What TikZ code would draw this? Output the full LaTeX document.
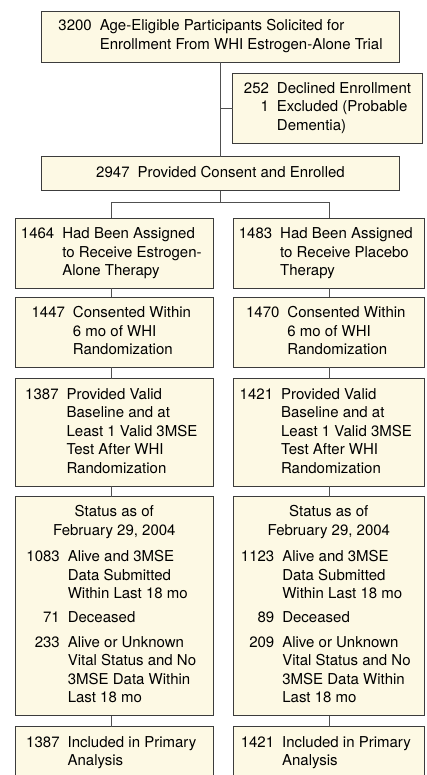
\documentclass[tikz,border=0pt]{standalone}
\usepackage{fontspec}
\setmainfont{TeX Gyre Heros}
\definecolor{boxfill}{HTML}{FDF9E4}
\definecolor{boxdraw}{HTML}{3C3C3C}
\definecolor{linegray}{HTML}{505050}
\newcommand{\ntab}[1]{\begin{tabular}{@{}r@{\hspace{8pt}}l@{}}#1\end{tabular}}
\newcommand{\ctab}[1]{\begin{tabular}{@{}r@{\hspace{8pt}}l@{\hspace{6pt}}}#1\end{tabular}}
\begin{document}
\begin{tikzpicture}[x=1pt,y=-1pt,
  font=\fontsize{15}{18.5}\selectfont,
  fbox/.style={draw=boxdraw, fill=boxfill, line width=0.9pt, inner sep=0pt, outer sep=0pt, anchor=center},
  lbox/.style={fbox, minimum width=198.7pt},
  rbox/.style={fbox, minimum width=191pt},
  conn/.style={draw=linegray, line width=1pt}]
\useasboundingbox (0,0) rectangle (427,775);
\begin{scope}
\clip (0,0) rectangle (427,775);
% top
\node[fbox, minimum width=357.3pt, minimum height=51pt] (top) at (220.5,36.5)
  {\ntab{3200 & Age-Eligible Participants Solicited for\\ & Enrollment From WHI Estrogen-Alone Trial}};
\node[fbox, minimum width=190pt, minimum height=70.5pt] (decl) at (327.5,108.3)
  {\ntab{252 & Declined Enrollment\\ 1 & Excluded (Probable\\ & Dementia)}};
\node[fbox, minimum width=357.3pt, minimum height=33.7pt] (enr) at (220.5,173.8)
  {\ntab{2947 & Provided Consent and Enrolled}};
% columns
\coordinate (lc) at (111,0);
\coordinate (rc) at (329.3,0);
\node[lbox, minimum height=70pt] (l1) at (114.3,253.3)
  {\ctab{1464 & Had Been Assigned\\ & to Receive Estrogen-\\ & Alone Therapy}};
\node[rbox, minimum height=70pt] (r1) at (328.8,253.3)
  {\ctab{1483 & Had Been Assigned\\ & to Receive Placebo\\ & Therapy}};
\node[lbox, minimum height=70pt] (l2) at (114.3,332.3)
  {\ctab{1447 & Consented Within\\ & 6 mo of WHI\\ & Randomization}};
\node[rbox, minimum height=70pt] (r2) at (328.8,332.3)
  {\ctab{1470 & Consented Within\\ & 6 mo of WHI\\ & Randomization}};
\node[lbox, minimum height=107.3pt] (l3) at (114.3,432.3)
  {\ctab{1387 & Provided Valid\\ & Baseline and at\\ & Least 1 Valid 3MSE\\ & Test After WHI\\ & Randomization}};
\node[rbox, minimum height=107.3pt] (r3) at (328.8,432.3)
  {\ctab{1421 & Provided Valid\\ & Baseline and at\\ & Least 1 Valid 3MSE\\ & Test After WHI\\ & Randomization}};
\node[lbox, minimum height=219pt] (l4) at (114.3,606)
  {\ctab{\multicolumn{2}{c}{Status as of}\\ \multicolumn{2}{c}{February 29, 2004}\\[8pt]
   1083 & Alive and 3MSE\\ & Data Submitted\\ & Within Last 18 mo\\[5.5pt]
   71 & Deceased\\[6pt]
   233 & Alive or Unknown\\ & Vital Status and No\\ & 3MSE Data Within\\ & Last 18 mo}};
\node[rbox, minimum height=219pt] (r4) at (328.8,606)
  {\ctab{\multicolumn{2}{c}{Status as of}\\ \multicolumn{2}{c}{February 29, 2004}\\[8pt]
   1123 & Alive and 3MSE\\ & Data Submitted\\ & Within Last 18 mo\\[5.5pt]
   89 & Deceased\\[6pt]
   209 & Alive or Unknown\\ & Vital Status and No\\ & 3MSE Data Within\\ & Last 18 mo}};
\node[lbox, minimum height=52.6pt] (l5) at (114.3,753)
  {\ctab{1387 & Included in Primary\\ & Analysis}};
\node[rbox, minimum height=52.6pt] (r5) at (328.8,753)
  {\ctab{1421 & Included in Primary\\ & Analysis}};
% connectors
\draw[conn] (top.south) -- (enr.north);
\draw[conn] (decl.west) -- (decl.west -| top.south);
\draw[conn] (enr.south) -- ++(0,12) coordinate (split);
\draw[conn] (l1.north -| lc) |- (split) -| (r1.north -| rc);
\foreach \a/\b in {l1/l2,l2/l3,l3/l4,l4/l5}{\draw[conn] (\a.south -| lc) -- (\b.north -| lc);}
\foreach \a/\b in {r1/r2,r2/r3,r3/r4,r4/r5}{\draw[conn] (\a.south -| rc) -- (\b.north -| rc);}
\end{scope}
\end{tikzpicture}
\end{document}
